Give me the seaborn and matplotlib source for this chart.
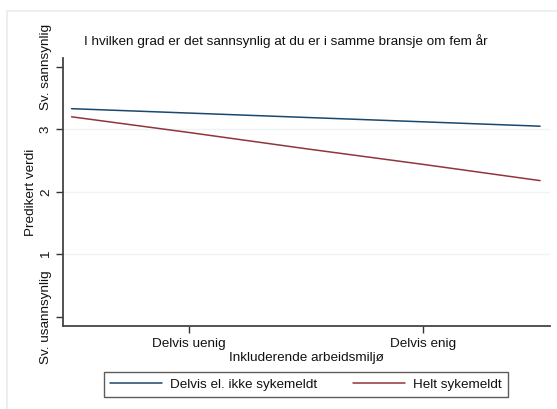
import matplotlib
matplotlib.use("Agg")
import matplotlib.pyplot as plt
import matplotlib.patches as mpatches
import pandas as pd
import seaborn as sns

# values
x_vals = [1, 2, 3, 4, 5]
delvis = [3.33, 3.26, 3.19, 3.12, 3.05]
helt = [3.20, 2.95, 2.69, 2.44, 2.18]
series = ["Delvis el. ikke sykemeldt", "Helt sykemeldt"]
colors = ["#1a476f", "#90353b"]
x_ticks = [2, 4]
x_ticklabels = ["Delvis uenig", "Delvis enig"]
y_ticks = [0, 1, 2, 3, 4]
y_ticklabels = ["Sv. usannsynlig", "1", "2", "3", "Sv. sannsynlig"]

df = pd.DataFrame({
    "x": x_vals * 2,
    "y": delvis + helt,
    "gruppe": [series[0]] * len(x_vals) + [series[1]] * len(x_vals),
})

sns.set_style("white")
plt.rcParams["font.family"] = ["Liberation Sans", "DejaVu Sans"]
plt.rcParams["text.color"] = "#111111"
plt.rcParams["axes.labelcolor"] = "#111111"
plt.rcParams["xtick.color"] = "#111111"
plt.rcParams["ytick.color"] = "#111111"

FS = 9.7

fig = plt.figure(figsize=(5.57, 4.09), dpi=100)
ax = fig.add_axes([63 / 557, 1 - 326 / 409, (550 - 63) / 557, (326 - 58) / 409])

# light outer frame (Stata graph region)
fig.patches.append(mpatches.Rectangle((7 / 557, -0.1), 1.2, 1.1 - 11 / 409,
                                      transform=fig.transFigure, fill=False,
                                      edgecolor="#e6eef0", lw=1.2))

for v in [1, 2, 3]:
    ax.axhline(v, color="#eef3f4", lw=1, zorder=0)

sns.lineplot(data=df, x="x", y="y", hue="gruppe", palette=colors, ax=ax,
             linewidth=1.1, legend=False)

ax.set_xlim(0.927, 5.085)
ax.set_ylim(-0.144, 4.14)
ax.set_xticks(x_ticks)
ax.set_xticklabels(x_ticklabels, fontsize=FS)
ax.set_yticks(y_ticks)
ax.set_yticklabels(y_ticklabels, fontsize=FS, rotation=90, va="center")
ax.tick_params(axis="both", length=5, width=1, color="#333333", direction="out",
               left=True, bottom=True)
ax.tick_params(axis="y", pad=3)
ax.tick_params(axis="x", pad=4)
for side in ["top", "right"]:
    ax.spines[side].set_visible(False)
for side in ["left", "bottom"]:
    ax.spines[side].set_color("#444444")
    ax.spines[side].set_linewidth(1.3)

ax.set_xlabel("Inkluderende arbeidsmiljø", fontsize=FS, labelpad=1)
ax.set_ylabel("Predikert verdi", fontsize=FS, labelpad=2)

fig.text(84 / 557, 1 - 41 / 409,
         "I hvilken grad er det sannsynlig at du er i samme bransje om fem år",
         fontsize=FS, ha="left", va="center")

handles = [plt.Line2D([], [], color=c, lw=1.1) for c in colors]
leg = fig.legend(handles, series, loc="center", ncol=2,
                 bbox_to_anchor=(306 / 557, 1 - 384.5 / 409),
                 fontsize=FS, handlelength=3.85, handletextpad=0.6,
                 columnspacing=2.7, fancybox=False, frameon=True,
                 borderpad=0.45)
leg.get_frame().set_edgecolor("#333333")
leg.get_frame().set_linewidth(1.0)

fig.savefig("out.png", dpi=100)
